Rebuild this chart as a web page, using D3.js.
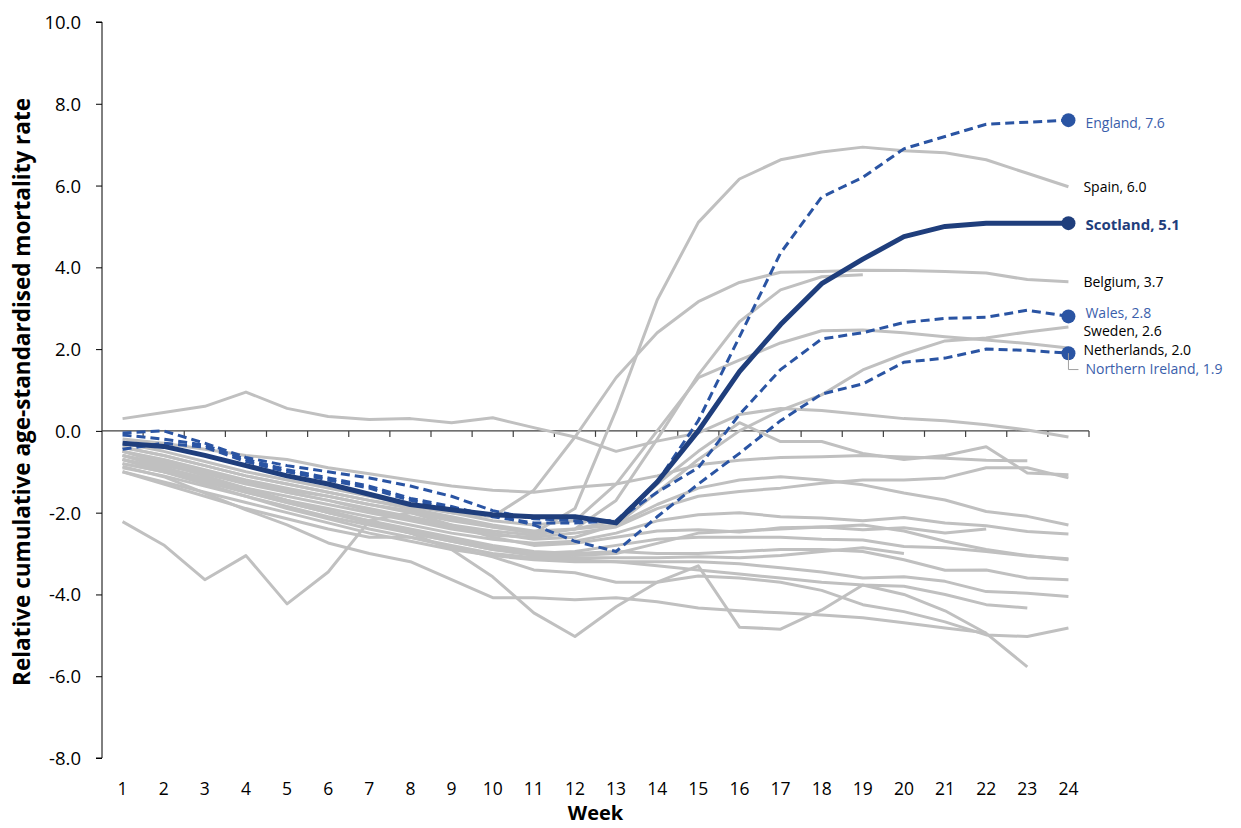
<!DOCTYPE html>
<html>
<head>
<meta charset="utf-8">
<script src="https://cdn.jsdelivr.net/npm/d3@7"></script>
<style>
  body { margin: 0; background: #fff; }
  text { font-family: "Open Sans", "Noto Sans", sans-serif; }
</style>
</head>
<body>
<svg id="chart" width="1241" height="828"></svg>
<script>
// weeks on the x axis
var weeks = d3.range(1, 25);
var yTicks = [-8, -6, -4, -2, 0, 2, 4, 6, 8, 10];

// highlighted UK nations
var scotland = [-0.3,-0.38,-0.6,-0.85,-1.1,-1.3,-1.55,-1.8,-1.93,-2.05,-2.1,-2.1,-2.25,-1.25,0.0,1.45,2.6,3.6,4.2,4.75,5.0,5.08,5.08,5.08];
var england = [-0.05,0.0,-0.3,-0.65,-0.85,-1.0,-1.15,-1.35,-1.6,-1.95,-2.15,-2.2,-2.2,-1.25,0.25,2.3,4.35,5.72,6.2,6.9,7.2,7.5,7.55,7.6];
var wales = [-0.1,-0.2,-0.35,-0.7,-0.95,-1.15,-1.35,-1.65,-1.85,-2.1,-2.25,-2.25,-2.2,-1.5,-0.9,0.4,1.5,2.25,2.4,2.65,2.75,2.78,2.95,2.8];
var nIreland = [-0.45,-0.3,-0.4,-0.75,-1.0,-1.2,-1.4,-1.7,-1.9,-2.05,-2.3,-2.7,-2.95,-2.1,-1.3,-0.55,0.25,0.9,1.15,1.68,1.78,2.0,1.97,1.9];

// comparison countries (grey)
var spain = [-0.6,-0.85,-1.05,-1.25,-1.45,-1.6,-1.8,-1.95,-2.15,-2.35,-2.5,-1.9,0.5,3.2,5.1,6.16,6.63,6.82,6.94,6.85,6.8,6.63,6.3,5.97];
var belgium = [-0.4,-0.6,-0.85,-1.1,-1.3,-1.5,-1.7,-1.85,-2.0,-2.1,-1.45,-0.15,1.3,2.4,3.16,3.63,3.88,3.9,3.93,3.92,3.9,3.86,3.7,3.65];
var netherlands = [-0.3,-0.5,-0.75,-1.0,-1.2,-1.4,-1.6,-1.8,-2.0,-2.2,-2.3,-2.2,-1.3,0.0,1.3,1.73,2.15,2.45,2.47,2.4,2.3,2.22,2.14,2.03];
var sweden = [-0.6,-0.8,-1.05,-1.3,-1.5,-1.7,-1.95,-2.15,-2.35,-2.5,-2.65,-2.6,-2.3,-1.5,-0.7,0.0,0.5,0.88,1.49,1.88,2.2,2.27,2.42,2.54];
var grey01 = [0.3,0.45,0.6,0.95,0.55,0.35,0.28,0.3,0.2,0.32,0.08,-0.15,-0.5,-0.25,-0.05,0.4,0.55,0.5,0.4,0.3,0.25,0.15,0.02,-0.15];
var grey02 = [-0.5,-0.75,-1.0,-1.25,-1.5,-1.7,-1.9,-2.1,-2.3,-2.45,-2.55,-2.4,-1.7,-0.2,1.37,2.67,3.45,3.77,3.82,null,null,null,null,null];
var grey03 = [-0.5,-0.7,-0.95,-1.2,-1.4,-1.6,-1.8,-2.0,-2.2,-2.35,-2.5,-2.4,-2.2,-1.3,-0.5,0.2,-0.26,-0.26,-0.55,-0.7,-0.6,-0.39,-1.03,-1.07];
var grey04 = [-0.2,-0.3,-0.45,-0.6,-0.7,-0.9,-1.05,-1.2,-1.35,-1.45,-1.5,-1.38,-1.3,-1.1,-0.83,-0.72,-0.65,-0.63,-0.6,-0.64,-0.67,-0.72,-0.73,null];
var grey05 = [-0.7,-0.9,-1.15,-1.4,-1.6,-1.8,-2.0,-2.2,-2.4,-2.55,-2.6,-2.5,-2.35,-1.9,-1.6,-1.48,-1.4,-1.28,-1.2,-1.2,-1.15,-0.9,-0.9,-1.15];
var grey06 = [-0.4,-0.6,-0.85,-1.1,-1.3,-1.5,-1.7,-1.9,-2.1,-2.3,-2.45,-2.4,-2.3,-1.8,-1.4,-1.2,-1.12,-1.2,-1.32,-1.52,-1.69,-1.97,-2.09,-2.3];
var grey07 = [-0.8,-1.0,-1.2,-1.45,-1.7,-1.9,-2.1,-2.3,-2.5,-2.65,-2.75,-2.7,-2.5,-2.2,-2.05,-2.0,-2.1,-2.13,-2.2,-2.12,-2.25,-2.32,-2.46,-2.52];
var grey08 = [-2.22,-2.79,-3.64,-3.05,-4.23,-3.45,-2.2,-2.0,-2.3,-2.6,-2.8,-2.75,-2.6,-2.45,-2.42,-2.47,-2.37,-2.35,-2.42,-2.37,-2.5,-2.4,null,null];
var grey09 = [-0.9,-1.1,-1.35,-1.6,-1.85,-2.1,-2.3,-2.5,-2.7,-2.9,-3.0,-2.95,-2.8,-2.65,-2.6,-2.6,-2.6,-2.65,-2.67,-2.83,-2.86,-2.95,-3.06,-3.13];
var grey10 = [-0.7,-0.95,-1.2,-1.45,-1.7,-1.95,-2.2,-2.45,-2.65,-2.85,-3.0,-3.05,-3.0,-2.75,-2.5,-2.45,-2.4,-2.35,-2.3,-2.45,-2.7,-2.9,-3.05,-3.15];
var grey11 = [-0.5,-0.8,-1.1,-1.4,-1.7,-2.0,-2.25,-2.5,-2.7,-2.9,-3.05,-3.1,-3.1,-3.1,-3.08,-3.1,-3.05,-2.95,-2.86,-3.0,null,null,null,null];
var grey12 = [-0.6,-0.9,-1.2,-1.5,-1.75,-2.0,-2.2,-2.4,-2.6,-2.8,-2.95,-3.0,-2.95,-3.0,-3.0,-2.95,-2.9,-2.9,-2.95,-3.15,-3.41,-3.4,-3.6,-3.64];
var grey13 = [-0.7,-1.0,-1.3,-1.6,-1.9,-2.15,-2.4,-2.6,-2.8,-3.0,-3.1,-3.15,-3.2,-3.2,-3.2,-3.25,-3.35,-3.45,-3.6,-3.57,-3.68,-3.93,-3.97,-4.05];
var grey14 = [-1.0,-1.25,-1.5,-1.75,-2.0,-2.25,-2.5,-2.7,-2.9,-3.05,-3.15,-3.2,-3.2,-3.3,-3.4,-3.5,-3.6,-3.7,-3.77,-3.8,-4.0,-4.25,-4.33,null];
var grey15 = [-0.8,-1.0,-1.25,-1.5,-1.75,-2.0,-2.25,-2.5,-2.9,-3.57,-4.45,-5.03,-4.3,-3.7,-3.3,-4.8,-4.85,-4.38,-3.77,-4.0,-4.4,-4.95,-5.77,null];
var grey16 = [-0.87,-1.12,-1.52,-1.93,-2.3,-2.74,-3.0,-3.2,-3.64,-4.08,-4.08,-4.13,-4.08,-4.18,-4.33,-4.4,-4.45,-4.5,-4.57,-4.69,-4.82,-4.94,null,null];
var grey17 = [-1.0,-1.3,-1.6,-1.9,-2.15,-2.4,-2.6,-2.6,-2.84,-3.08,-3.4,-3.47,-3.7,-3.7,-3.55,-3.6,-3.7,-3.9,-4.25,-4.42,-4.67,-4.99,-5.03,-4.82];

var greySeries = [spain, belgium, netherlands, sweden, grey01, grey02, grey03, grey04, grey05,
  grey06, grey07, grey08, grey09, grey10, grey11, grey12, grey13, grey14, grey15, grey16, grey17];

// end labels
var labelNames = ["England, 7.6", "Spain, 6.0", "Scotland, 5.1", "Belgium, 3.7", "Wales, 2.8", "Sweden, 2.6", "Netherlands, 2.0", "Northern Ireland, 1.9"];
var labelValues = [7.6, 6.0, 5.1, 3.7, 2.8, 2.6, 2.0, 1.9];
var labelOffsets = [-0.07, -0.04, -0.07, -0.06, 0.08, -0.16, -0.03, -0.4];
var labelKinds = ["uk", "other", "scot", "other", "uk", "other", "other", "uk"];

var svg = d3.select("#chart"),
    margin = { top: 22, right: 152, bottom: 70, left: 102 },
    width = +svg.attr("width") - margin.left - margin.right,
    height = +svg.attr("height") - margin.top - margin.bottom;

var navy = "#1f3e7c", blue = "#2a54a3", labelBlue = "#3a5eab", grey = "#c0c0c0";

var x = d3.scaleBand().domain(weeks).range([margin.left, margin.left + width]);
var y = d3.scaleLinear().domain([-8, 10]).range([margin.top + height, margin.top]);
var cx = function (w) { return x(w) + x.bandwidth() / 2; };

var line = d3.line()
    .defined(function (d) { return d != null; })
    .x(function (d, i) { return cx(weeks[i]); })
    .y(function (d) { return y(d); });

// y axis
svg.append("g")
    .attr("transform", "translate(" + margin.left + ",0)")
    .call(d3.axisLeft(y).tickValues(yTicks).tickSize(6).tickPadding(15)
        .tickFormat(function (d) { return d.toFixed(1); }))
    .call(function (g) {
        g.select(".domain").attr("stroke", "#000").attr("d", "M-6," + y(10) + "H0V" + y(-8) + "H-6");
        g.selectAll(".tick line").attr("stroke", "#000");
        g.selectAll("text").attr("font-size", 18.5).attr("fill", "#000").attr("dy", "0.35em");
    });

// zero line with ticks between weeks
var zero = svg.append("g").attr("transform", "translate(0," + y(0) + ")");
zero.append("line").attr("x1", margin.left).attr("x2", margin.left + width)
    .attr("stroke", "#404040").attr("stroke-width", 1.2);
zero.selectAll(".wtick").data(weeks)
    .enter().append("line")
    .attr("class", "wtick")
    .attr("x1", function (d) { return x(d) + x.bandwidth(); })
    .attr("x2", function (d) { return x(d) + x.bandwidth(); })
    .attr("y1", 0).attr("y2", 6)
    .attr("stroke", "#404040").attr("stroke-width", 1.2);

// week labels along the bottom
svg.append("g")
    .attr("transform", "translate(0," + (margin.top + height + 25) + ")")
    .call(d3.axisBottom(x).tickSize(0).tickPadding(0))
    .call(function (g) {
        g.select(".domain").remove();
        g.selectAll("text").attr("font-size", 17.5).attr("fill", "#000");
    });

// axis titles
svg.append("text")
    .attr("x", cx(12) + x.bandwidth() / 2).attr("y", 820)
    .attr("text-anchor", "middle").attr("font-size", 20).attr("font-weight", "bold")
    .text("Week");

svg.append("text")
    .attr("transform", "translate(30," + (margin.top + height / 2 + 2) + ") rotate(-90)")
    .attr("text-anchor", "middle").attr("font-size", 22.5).attr("font-weight", "bold")
    .text("Relative cumulative age-standardised mortality rate");

// grey lines
svg.append("g").selectAll("path").data(greySeries)
    .enter().append("path")
    .attr("d", line)
    .attr("fill", "none").attr("stroke", grey).attr("stroke-width", 3)
    .attr("stroke-linejoin", "round");

// dashed UK nations
var dashed = [england, wales, nIreland];
svg.append("g").selectAll("path").data(dashed)
    .enter().append("path")
    .attr("d", line)
    .attr("fill", "none").attr("stroke", blue).attr("stroke-width", 3)
    .attr("stroke-dasharray", "9,5");

svg.append("path").datum(scotland)
    .attr("d", line)
    .attr("fill", "none").attr("stroke", navy).attr("stroke-width", 5)
    .attr("stroke-linejoin", "round");

// end markers
var ends = [[england, blue], [scotland, navy], [wales, blue], [nIreland, blue]];
svg.append("g").selectAll("circle").data(ends)
    .enter().append("circle")
    .attr("cx", cx(24))
    .attr("cy", function (d) { return y(d[0][23]); })
    .attr("r", 7)
    .attr("fill", function (d) { return d[1]; });

// leader for Northern Ireland
var nx = cx(24);
svg.append("path")
    .attr("d", "M" + nx + "," + y(1.9) + "V" + y(1.9 + labelOffsets[7]) + "H" + (nx + 10))
    .attr("fill", "none").attr("stroke", "#a0a0a0").attr("stroke-width", 1);

// end labels
svg.append("g").selectAll("text").data(labelNames)
    .enter().append("text")
    .attr("x", function (d, i) { return labelKinds[i] === "other" ? cx(24) + 15 : cx(24) + 17; })
    .attr("y", function (d, i) { return y(labelValues[i] + labelOffsets[i]); })
    .attr("dy", "0.35em")
    .attr("font-size", function (d, i) { return labelKinds[i] === "scot" ? 15 : 14; })
    .attr("font-weight", function (d, i) { return labelKinds[i] === "scot" ? "bold" : "normal"; })
    .attr("fill", function (d, i) { return labelKinds[i] === "other" ? "#000" : (labelKinds[i] === "scot" ? navy : labelBlue); })
    .text(function (d) { return d; });
</script>
</body>
</html>
